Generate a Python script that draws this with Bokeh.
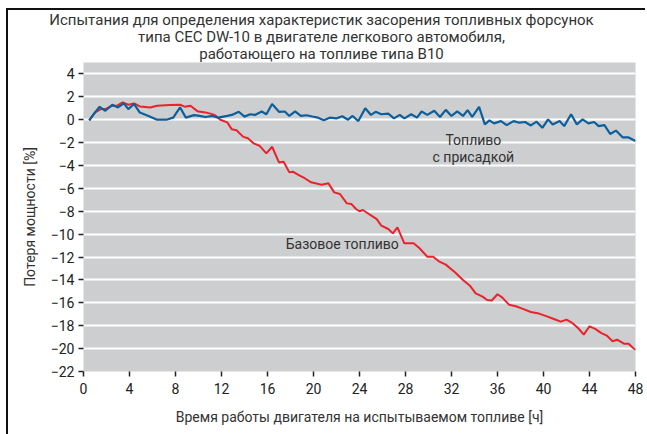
from bokeh.plotting import figure
from bokeh.models import Label, FixedTicker, Div
from bokeh.layouts import column
from bokeh.embed import file_html
from bokeh.resources import INLINE

title_lines = ["Испытания для определения характеристик засорения топливных форсунок",
               "типа CEC DW-10 в двигателе легкового автомобиля,",
               "работающего на топливе типа B10"]
x_label = "Время работы двигателя на испытываемом топливе [ч]"
y_label = "Потеря мощности [%]"
x_ticks = list(range(0, 49, 4))
y_ticks = list(range(-22, 5, 2))

blue_h = [0.5, 0.9, 1.4, 1.9, 2.5, 3.0, 3.5, 3.9, 4.4, 4.9, 5.6, 6.4, 7.2, 7.8, 8.4, 8.9, 9.6, 10.1,
          10.6, 11.2, 11.7, 12.5, 12.9, 13.5, 14.0, 14.5, 14.9, 15.5, 15.9, 16.4, 17.0, 17.5, 17.9,
          18.4, 18.9, 19.4, 19.9, 20.4, 20.9, 21.4, 22.0, 22.5, 23.0, 23.4, 23.9, 24.5, 25.0, 25.4,
          25.9, 26.5, 27.0, 27.5, 27.9, 28.5, 29.0, 29.4, 29.9, 30.5, 31.0, 31.5, 32.0, 32.5, 33.0,
          33.4, 33.8, 34.4, 34.9, 35.3, 35.7, 36.3, 36.8, 37.4, 37.9, 38.4, 38.9, 39.4, 39.9, 40.4,
          40.8, 41.4, 41.8, 42.4, 42.9, 43.4, 43.9, 44.4, 44.8, 45.3, 45.8, 46.3, 46.9, 47.4, 48.0]
blue_v = [-0.05, 0.5, 1.13, 0.78, 1.31, 1.07, 1.43, 0.93, 1.37, 0.63, 0.35, 0.0, 0.0, 0.18, 1.07,
          0.18, 0.4, 0.33, 0.24, 0.33, 0.18, 0.33, 0.42, 0.7, 0.27, 0.48, 0.42, 0.72, 0.48, 1.37,
          0.69, 0.72, 0.33, 0.72, 0.33, 0.39, 0.28, 0.18, -0.05, 0.18, 0.12, 0.3, 0.0, 0.33, -0.12,
          1.01, 0.42, 0.69, 0.48, 0.54, 0.12, 0.42, 0.12, 0.48, 0.18, 0.72, 0.42, 0.78, 0.24, 0.86,
          0.33, 0.72, 0.33, 0.84, 0.24, 1.13, -0.41, -0.06, -0.32, -0.12, -0.47, -0.12, -0.26,
          -0.2, -0.5, -0.17, -0.71, 0.03, -0.41, -0.12, -0.56, 0.48, -0.41, 0.03, -0.32, -0.2,
          -0.56, -0.47, -1.25, -0.95, -1.55, -1.55, -1.85]

red_h = [0.5, 1.0, 1.5, 1.9, 2.5, 2.9, 3.4, 3.9, 4.4, 4.9, 5.8, 6.4, 7.5, 8.4, 8.8, 9.3, 9.9, 10.6,
         11.2, 11.5, 11.9, 12.5, 12.9, 13.3, 13.9, 14.3, 14.8, 15.3, 15.9, 16.4, 17.0, 17.4, 17.9,
         18.2, 18.8, 19.2, 19.8, 20.7, 21.3, 21.8, 22.3, 22.9, 23.3, 23.7, 24.0, 24.3, 24.9, 25.5,
         25.9, 26.5, 26.9, 27.3, 27.9, 28.7, 29.2, 29.9, 30.4, 30.9, 31.5, 32.3, 33.0, 33.6, 34.1,
         34.7, 35.1, 35.5, 36.0, 36.4, 37.0, 37.6, 38.2, 38.9, 39.6, 40.3, 40.9, 41.5, 42.0, 42.5,
         43.0, 43.5, 44.0, 44.5, 45.0, 45.5, 46.0, 46.4, 47.0, 47.4, 47.8, 48.0]
red_v = [-0.05, 0.63, 0.93, 0.93, 1.22, 1.22, 1.52, 1.31, 1.43, 1.16, 1.07, 1.22, 1.28, 1.31, 1.14,
         1.22, 0.75, 0.64, 0.49, 0.35, 0.0, -0.23, -0.84, -0.92, -1.5, -1.62, -2.07, -2.27, -2.94,
         -2.36, -3.73, -3.67, -4.6, -4.54, -4.89, -5.09, -5.47, -5.68, -5.56, -6.35, -6.49, -7.31,
         -7.37, -7.8, -8.0, -7.89, -8.3, -8.68, -9.26, -9.55, -9.93, -9.41, -10.8, -10.8, -11.21,
         -11.97, -11.97, -12.37, -12.66, -13.33, -14.0, -14.5, -15.17, -15.46, -15.75, -15.8,
         -15.25, -15.52, -16.16, -16.3, -16.53, -16.8, -16.94, -17.18, -17.41, -17.64, -17.47,
         -17.76, -18.2, -18.78, -18.05, -18.28, -18.63, -18.86, -19.36, -19.22, -19.57, -19.57,
         -19.94, -20.1]

FONT = "Roboto"
TXT = "#333333"

title_html = ('<div style="font-family:Roboto; font-size:15px; line-height:17px; color:#333333; '
              'text-align:center; width:627px; padding-top:2px; margin:0;">'
              + "<br>".join(title_lines) + "</div>")
title_div = Div(text=title_html, width=639, height=52,
                styles={"overflow": "hidden", "margin": "0", "padding": "0"})

p = figure(width=639, height=372, x_range=(0, 48), y_range=(-22, 5),
           output_backend="svg", toolbar_location=None,
           min_border_left=75, min_border_right=10, min_border_top=0, min_border_bottom=63)
p.background_fill_color = "#cdced0"
p.border_fill_color = "white"
p.outline_line_color = None

p.xgrid.grid_line_color = None
p.ygrid.grid_line_color = "white"
p.ygrid.grid_line_width = 2
p.ygrid.ticker = FixedTicker(ticks=y_ticks)

for ax in (p.xaxis[0], p.yaxis[0]):
    ax.axis_line_color = None
    ax.major_tick_line_color = "#222222"
    ax.major_tick_line_width = 1.5
    ax.major_tick_out = 5
    ax.major_tick_in = 0
    ax.minor_tick_line_color = None
    ax.major_label_text_font = FONT
    ax.major_label_text_font_size = "14px"
    ax.major_label_text_color = "#222222"
    ax.axis_label_text_font = FONT
    ax.axis_label_text_font_size = "14px"
    ax.axis_label_text_font_style = "normal"
    ax.axis_label_text_color = TXT

p.xaxis.ticker = FixedTicker(ticks=x_ticks)
p.yaxis.ticker = FixedTicker(ticks=y_ticks)
p.xaxis.axis_label = x_label
p.yaxis.axis_label = y_label
p.xaxis.major_label_standoff = 6
p.xaxis.axis_label_standoff = 12
p.yaxis.major_label_standoff = 4
p.yaxis.axis_label_standoff = 10

p.line(red_h, red_v, line_color="#e8232b", line_width=2)
p.line(blue_h, blue_v, line_color="#0d5f9c", line_width=2.2)

for t, y in (("Топливо", -1.75), ("с присадкой", -3.25)):
    p.add_layout(Label(x=33.9, y=y, text=t, text_align="center", text_baseline="middle",
                       text_font=FONT, text_font_size="14px", text_color=TXT))
p.add_layout(Label(x=22.5, y=-10.9, text="Базовое топливо", text_align="center",
                   text_baseline="middle", text_font=FONT, text_font_size="14px", text_color=TXT))

layout = column(title_div, p, spacing=0, width=639)
layout.stylesheets = [":host { margin-left: 6px; margin-top: 8px; "
                      "border-left: 2px solid #111; border-top: 2px solid #111; }"]

open("out.html", "w").write(file_html(layout, INLINE))
